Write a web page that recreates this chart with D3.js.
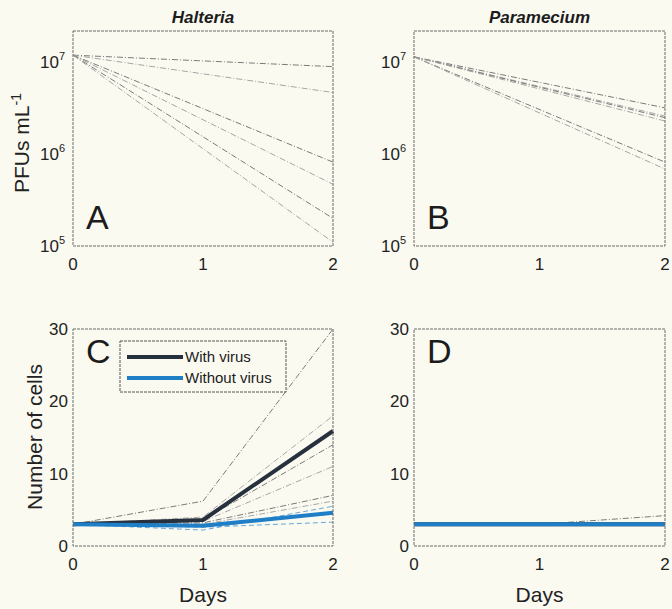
<!DOCTYPE html>
<html>
<head>
<meta charset="utf-8">
<script src="https://cdn.jsdelivr.net/npm/d3@7"></script>
<style>
  body { margin: 0; background: #fbfaf1; }
  svg { display: block; font-family: "Liberation Sans", Arial, sans-serif; }
</style>
</head>
<body>
<svg id="chart" width="672" height="609"></svg>
<script>
// ---- data ----
const pfuDays = [0, 2];
const halteriaPFU = [
  [1.2e7, 9.0e6],
  [1.2e7, 4.7e6],
  [1.2e7, 8.2e5],
  [1.2e7, 4.7e5],
  [1.2e7, 2.0e5],
  [1.2e7, 1.1e5]
];
const parameciumPFU = [
  [1.15e7, 3.2e6],
  [1.15e7, 2.6e6],
  [1.15e7, 2.5e6],
  [1.15e7, 2.3e6],
  [1.15e7, 8.2e5],
  [1.15e7, 6.9e5]
];

const cellDays = [0, 1, 2];
const halteriaVirusReps = [
  [3, 6.2, 30],
  [3, 4.0, 18],
  [3, 3.6, 14],
  [3, 3.4, 11],
  [3, 3.2, 7],
  [3, 3.0, 6.2]
];
const halteriaNoVirusReps = [
  [3, 2.6, 3.3],
  [3, 2.2, 5.5],
  [3, 3.0, 4.4]
];
const halteriaVirusMean = [3, 3.6, 15.9];
const halteriaNoVirusMean = [3, 2.8, 4.6];

const parameciumVirusReps = [[3, 3, 4.2]];
const parameciumNoVirusReps = [[3, 3, 3]];
const parameciumVirusMean = [3, 3, 3];
const parameciumNoVirusMean = [3, 3, 3];

const xTicks = [0, 1, 2];
const pfuTicks = [1e5, 1e6, 1e7];
const cellTicks = [0, 10, 20, 30];
const legendLabels = ["With virus", "Without virus"];

const darkColor = "#27303d",
      blueColor = "#1e7ec6";

const svg = d3.select("#chart");

// panel frames
const cols = [[73, 333], [414, 665]],
      rows = [[31, 246], [329, 546]];

function panel(col, row) {
  const [x0, x1] = cols[col], [y0, y1] = rows[row];
  return {x0, x1, y0, y1, row, g: svg.append("g")};
}

function drawFrame(p) {
  p.g.append("rect")
    .attr("x", p.x0).attr("y", p.y0)
    .attr("width", p.x1 - p.x0).attr("height", p.y1 - p.y0)
    .attr("fill", "none")
    .attr("stroke", "#6b6b6b")
    .attr("stroke-width", 1)
    .attr("stroke-dasharray", "3,1");
}

function xAxis(p, x, showLabel) {
  p.g.selectAll(".xt").data(xTicks).join("text")
    .attr("x", d => x(d)).attr("y", p.y1 + 24)
    .attr("text-anchor", "middle")
    .attr("font-size", 17).attr("fill", "#222")
    .text(d => d);
  if (showLabel) {
    p.g.append("text")
      .attr("x", (p.x0 + p.x1) / 2).attr("y", p.y1 + 56)
      .attr("text-anchor", "middle")
      .attr("font-size", 21).attr("fill", "#222")
      .text("Days");
  }
}

function logAxis(p, y) {
  const t = p.g.selectAll(".yt").data(pfuTicks).join("text")
    .attr("x", p.x0 - 8).attr("y", d => y(d) + 6)
    .attr("text-anchor", "end")
    .attr("font-size", 17).attr("fill", "#222");
  t.append("tspan").text("10");
  t.append("tspan").attr("font-size", 11).attr("dy", -8)
    .text(d => Math.round(Math.log10(d)));
}

function linAxis(p, y) {
  p.g.selectAll(".yt").data(cellTicks).join("text")
    .attr("x", p.x0 - 5).attr("y", d => y(d) + 6)
    .attr("text-anchor", "end")
    .attr("font-size", 17).attr("fill", "#222")
    .text(d => d);
}

function letter(p, s) {
  p.g.append("text")
    .attr("x", p.x0 + 13).attr("y", p.row === 0 ? p.y1 - 17 : p.y0 + 34)
    .attr("font-size", 34).attr("fill", "#1c1c1c")
    .text(s);
}

// ---- PFU panels (A, B) ----
function pfuPanel(col, title, data, lab) {
  const p = panel(col, 0);
  const x = d3.scaleLinear().domain([0, 2]).range([p.x0, p.x1]);
  const y = d3.scaleLog().domain([1e5, 2.2e7]).range([p.y1, p.y0]);
  const line = d3.line().x((d, i) => x(pfuDays[i])).y(d => y(d));

  p.g.selectAll(".rep").data(data).join("path")
    .attr("d", line)
    .attr("fill", "none")
    .attr("stroke", (d, i) => i % 2 ? "#a5a5a5" : "#7a7a7a")
    .attr("stroke-width", 1)
    .attr("stroke-dasharray", "6,2,1,2");

  drawFrame(p);
  logAxis(p, y);
  xAxis(p, x, false);
  letter(p, lab);

  p.g.append("text")
    .attr("x", (p.x0 + p.x1) / 2).attr("y", 23)
    .attr("text-anchor", "middle")
    .attr("font-size", 17).attr("font-weight", "bold").attr("font-style", "italic")
    .attr("fill", "#1c1c1c")
    .text(title);
}

pfuPanel(0, "Halteria", halteriaPFU, "A");
pfuPanel(1, "Paramecium", parameciumPFU, "B");

// ---- cell count panels (C, D) ----
function cellPanel(col, virusReps, noVirusReps, virusMean, noVirusMean, lab) {
  const p = panel(col, 1);
  const x = d3.scaleLinear().domain([0, 2]).range([p.x0, p.x1]);
  const y = d3.scaleLinear().domain([0, 30]).range([p.y1, p.y0]);
  const line = d3.line().x((d, i) => x(cellDays[i])).y(d => y(d));

  p.g.selectAll(".vrep").data(virusReps).join("path")
    .attr("d", line).attr("fill", "none")
    .attr("stroke", (d, i) => i % 2 ? "#a8a8a8" : "#7a7a7a")
    .attr("stroke-width", 1)
    .attr("stroke-dasharray", "6,2,1,2");
  p.g.selectAll(".nrep").data(noVirusReps).join("path")
    .attr("d", line).attr("fill", "none")
    .attr("stroke", "#6aa6d8")
    .attr("stroke-width", 1)
    .attr("stroke-dasharray", "5,3");

  p.g.append("path").attr("d", line(virusMean))
    .attr("fill", "none").attr("stroke", darkColor).attr("stroke-width", 4);
  p.g.append("path").attr("d", line(noVirusMean))
    .attr("fill", "none").attr("stroke", blueColor).attr("stroke-width", 4);

  drawFrame(p);
  linAxis(p, y);
  xAxis(p, x, true);
  letter(p, lab);
  return p;
}

cellPanel(0, halteriaVirusReps, halteriaNoVirusReps,
          halteriaVirusMean, halteriaNoVirusMean, "C");
cellPanel(1, parameciumVirusReps, parameciumNoVirusReps,
          parameciumVirusMean, parameciumNoVirusMean, "D");

// legend in panel C
const leg = svg.append("g").attr("transform", "translate(120,341)");
leg.append("rect")
  .attr("width", 166).attr("height", 51)
  .attr("fill", "#fbfaf1")
  .attr("stroke", "#555").attr("stroke-width", 1)
  .attr("stroke-dasharray", "3,1");
leg.selectAll(".li").data(legendLabels).join("g")
  .attr("transform", (d, i) => `translate(0,${16 + i * 21})`)
  .each(function(d, i) {
    const g = d3.select(this);
    g.append("line").attr("x1", 7).attr("x2", 63)
      .attr("stroke", i ? blueColor : darkColor).attr("stroke-width", 4);
    g.append("text").attr("x", 65).attr("y", 5)
      .attr("font-size", 15).attr("fill", "#1c1c1c")
      .text(d);
  });

// y axis titles
svg.append("text")
  .attr("transform", "translate(29,143) rotate(-90)")
  .attr("text-anchor", "middle")
  .attr("font-size", 21).attr("fill", "#222")
  .call(t => {
    t.append("tspan").text("PFUs mL");
    t.append("tspan").attr("font-size", 14).attr("dy", -8).text("-1");
  });
svg.append("text")
  .attr("transform", "translate(42,437) rotate(-90)")
  .attr("text-anchor", "middle")
  .attr("font-size", 21).attr("fill", "#222")
  .text("Number of cells");
</script>
</body>
</html>
